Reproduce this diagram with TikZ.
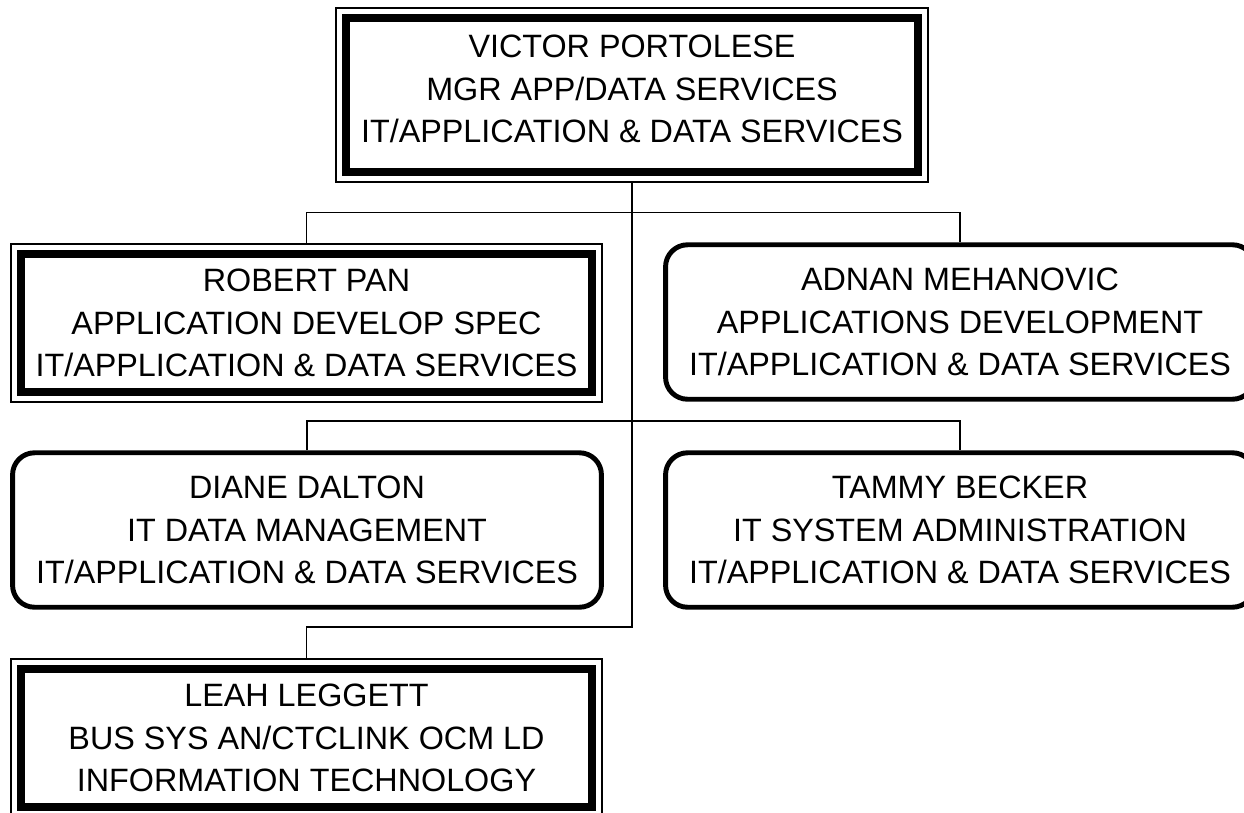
\documentclass[tikz,border=0pt]{standalone}
\usepackage{xcolor}
\usepackage{fontspec}
\setmainfont{Liberation Sans}
\usepackage{tikz}

\tikzset{
	orgtext/.style={align=center, inner sep=0, font=\fontsize{18.4pt}{24pt}\selectfont},
	dblbox/.style={orgtext, draw, line width=1.1pt, shape=rectangle, minimum width=11.82cm, minimum height=3.16cm},
	rbox/.style={orgtext, draw, line width=2.8pt, shape=rectangle, rounded corners=0.44cm, minimum width=11.78cm, minimum height=3.09cm},
	wire/.style={line width=1.1pt}
}

\begin{document}
\begin{tikzpicture}[x=0.02cm, y=-0.02cm]
	\useasboundingbox (0, 0) rectangle (1244, 812);
	\clip (0, 0) rectangle (1244, 812);
	% Boxes:
	\node[dblbox, minimum width=11.84cm, minimum height=3.48cm] (victor) at (632, 95) {};
	\node[orgtext] (victorname) at (632, 89) {VICTOR PORTOLESE\\MGR APP/DATA SERVICES\\IT/APPLICATION \& DATA SERVICES};
	\node[dblbox] (robert) at (306.5, 323) {ROBERT PAN\\APPLICATION DEVELOP SPEC\\IT/APPLICATION \& DATA SERVICES};
	\node[rbox] (adnan) at (960, 322) {ADNAN MEHANOVIC\\APPLICATIONS DEVELOPMENT\\IT/APPLICATION \& DATA SERVICES};
	\node[rbox] (diane) at (307, 530) {DIANE DALTON\\IT DATA MANAGEMENT\\IT/APPLICATION \& DATA SERVICES};
	\node[rbox] (tammy) at (960, 530) {TAMMY BECKER\\IT SYSTEM ADMINISTRATION\\IT/APPLICATION \& DATA SERVICES};
	\node[dblbox] (leah) at (306.5, 738) {LEAH LEGGETT\\BUS SYS AN/CTCLINK OCM LD\\INFORMATION TECHNOLOGY};
	% Inner thick frames:
	\foreach \n in {victor, robert, leah}
		\draw[line width=4.8pt] ([shift={(11, 11)}]\n.north west) rectangle ([shift={(-11, -11)}]\n.south east);
	% Wires:
	\coordinate (bus1) at (632, 212.5);
	\coordinate (bus2) at (632, 421);
	\coordinate (bus3) at (632, 627);
	\draw[wire] (victor.south) -- (bus3) -| (leah.north);
	\draw[wire] (robert.north) |- (bus1) -| (adnan.north);
	\draw[wire] (diane.north) |- (bus2) -| (tammy.north);
\end{tikzpicture}
\end{document}
